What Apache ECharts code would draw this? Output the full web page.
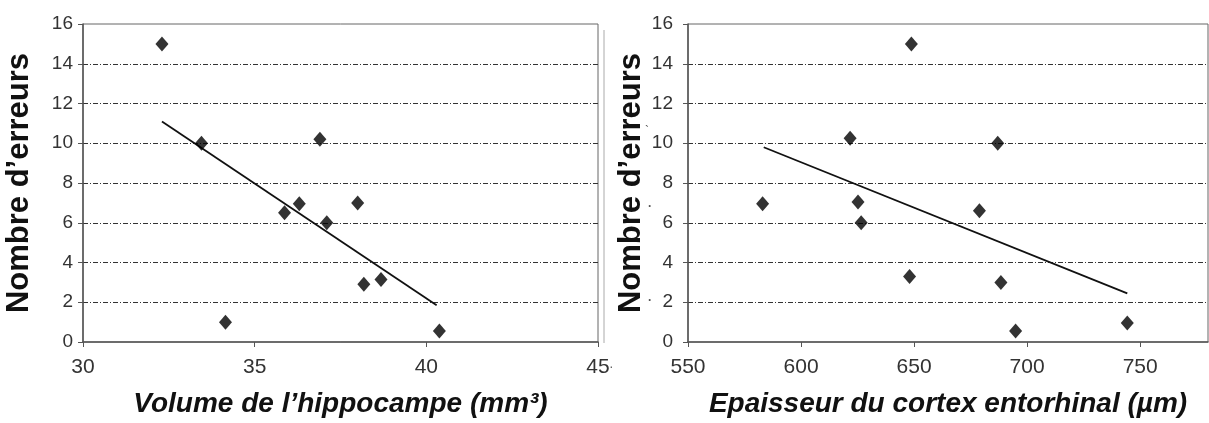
<!DOCTYPE html>
<html><head><meta charset="utf-8">
<script src="https://cdn.jsdelivr.net/npm/echarts@6/dist/echarts.min.js"></script>
<style>html,body{margin:0;padding:0;background:#fff}#c{width:1209px;height:423px}</style>
</head><body><div id="c"></div>
<script>
// Left panel: hippocampus volume (mm3) vs number of errors
const hippoVolume = [32.3, 33.45, 34.15, 35.87, 36.3, 36.9, 37.1, 38.0, 38.18, 38.68, 40.38];
const hippoErrors = [15.0, 10.0, 1.0, 6.5, 6.95, 10.2, 6.0, 7.0, 2.9, 3.15, 0.55];
const hippoTrendX = [32.3, 40.3];
const hippoTrendY = [11.1, 1.85];
// Right panel: entorhinal cortex thickness (µm) vs number of errors
const cortexThickness = [583.0, 621.7, 625.2, 626.6, 648.0, 648.8, 678.9, 687.0, 688.4, 694.9, 744.3];
const cortexErrors = [6.95, 10.25, 7.05, 6.0, 3.3, 15.0, 6.6, 10.0, 3.0, 0.55, 0.95];
const cortexTrendX = [583.5, 744.3];
const cortexTrendY = [9.8, 2.45];
// Axis ranges / ticks
const yRange = [0, 16, 2];
const hippoRange = [30, 45, 5];
const cortexRange = [550, 780, 50];

const FONT = "'Liberation Sans', Arial, sans-serif";
const zip = (a, b) => a.map((v, i) => [v, b[i]]);

function yAxis(gridIndex, margin, gap) {
  return {
    type: 'value', gridIndex, min: yRange[0], max: yRange[1], interval: yRange[2],
    name: 'Nombre d’erreurs', nameLocation: 'middle', nameGap: gap,
    nameTextStyle: { fontFamily: FONT, fontSize: 31, fontWeight: 'bold', color: '#111' },
    axisLine: { show: true, lineStyle: { color: '#555', width: 1.5 } },
    axisTick: { show: true, length: 5, lineStyle: { color: '#555' } },
    axisLabel: { fontFamily: FONT, fontSize: 19, color: '#333', margin },
    splitLine: { show: true, showMinLine: false, showMaxLine: false,
      lineStyle: { color: '#333', width: 1, type: [5, 2, 1, 2] } }
  };
}
function xAxis(gridIndex, range, name, hideMax) {
  return {
    type: 'value', gridIndex, min: range[0], max: range[1], interval: range[2],
    name, nameLocation: 'middle', nameGap: 48,
    nameTextStyle: { fontFamily: FONT, fontSize: 28, fontWeight: 'bold', fontStyle: 'italic', color: '#111' },
    axisLine: { show: true, lineStyle: { color: '#555', width: 1.5 } },
    axisTick: { show: true, length: 5, lineStyle: { color: '#555' } },
    axisLabel: { fontFamily: FONT, fontSize: 21, color: '#333', margin: 15, showMaxLabel: !hideMax },
    splitLine: { show: false }
  };
}
const scatterStyle = { symbol: 'diamond', symbolSize: [13, 15], itemStyle: { color: '#000' }, z: 3 };
const trendStyle = { symbol: 'none', lineStyle: { color: '#111', width: 1.8 }, z: 2 };

const chart = echarts.init(document.getElementById('c'));
chart.setOption({
  animation: false,
  backgroundColor: '#fff',
  grid: [
    { left: 83, right: 611, top: 24, bottom: 80, show: true, borderColor: '#666', borderWidth: 1 },
    { left: 688, right: 1, top: 24, bottom: 80, show: true, borderColor: '#666', borderWidth: 1 }
  ],
  xAxis: [
    xAxis(0, hippoRange, 'Volume de l’hippocampe (mm³)', false),
    xAxis(1, cortexRange, 'Epaisseur du cortex entorhinal (µm)', true)
  ],
  yAxis: [yAxis(0, 10, 48), yAxis(1, 15, 41)],
  series: [
    Object.assign({ type: 'scatter', xAxisIndex: 0, yAxisIndex: 0, data: zip(hippoVolume, hippoErrors) }, scatterStyle),
    Object.assign({ type: 'line', xAxisIndex: 0, yAxisIndex: 0, data: zip(hippoTrendX, hippoTrendY) }, trendStyle),
    Object.assign({ type: 'scatter', xAxisIndex: 1, yAxisIndex: 1, data: zip(cortexThickness, cortexErrors) }, scatterStyle),
    Object.assign({ type: 'line', xAxisIndex: 1, yAxisIndex: 1, data: zip(cortexTrendX, cortexTrendY) }, trendStyle)
  ],
  graphic: [
    { type: 'line', shape: { x1: 604, y1: 30, x2: 604, y2: 343 }, style: { stroke: '#aaa', lineWidth: 1 } },
    { type: 'text', left: 645, top: 126, style: { text: '`', fill: '#555', font: '12px ' + FONT } },
    { type: 'text', left: 648, top: 198, style: { text: '.', fill: '#555', font: 'bold 12px ' + FONT } },
    { type: 'text', left: 648, top: 292, style: { text: '.', fill: '#555', font: 'bold 12px ' + FONT } },
    { type: 'text', left: 609, top: 360, style: { text: '·', fill: '#666', font: '14px ' + FONT } }
  ]
});
</script></body></html>
